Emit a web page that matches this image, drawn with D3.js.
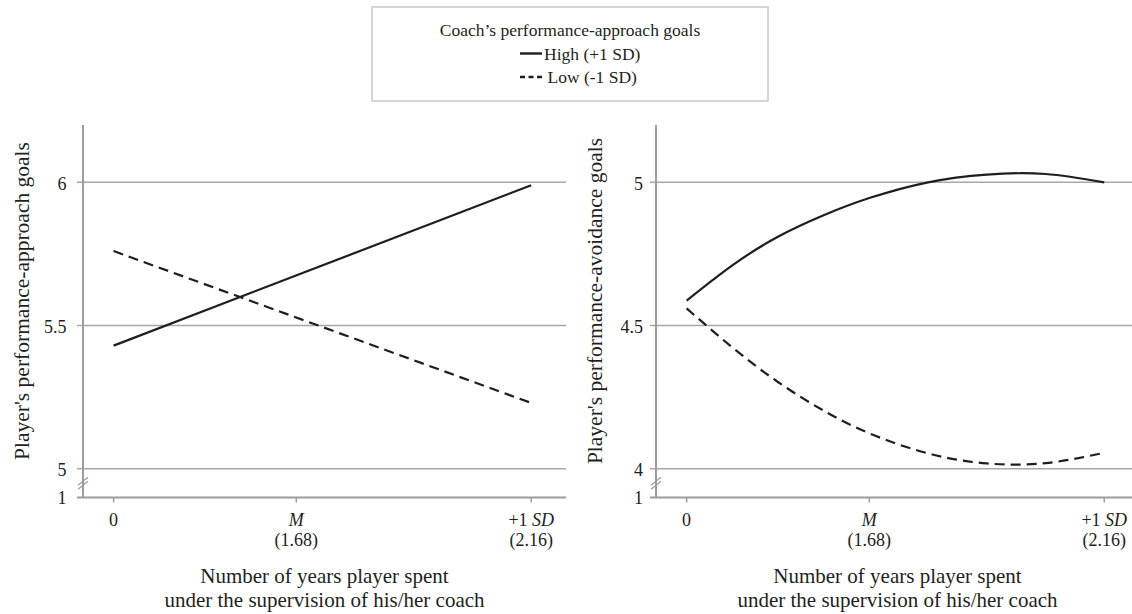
<!DOCTYPE html>
<html>
<head>
<meta charset="utf-8">
<script src="https://cdn.jsdelivr.net/npm/d3@7"></script>
<style>
  html, body { margin: 0; padding: 0; background: #fff; }
  svg { display: block; }
  text { font-family: "Liberation Serif", "Times New Roman", serif; fill: #231f20; }
</style>
</head>
<body>
<svg id="chart" width="1132" height="614"></svg>
<script>
// ---- data ----
const seriesNames = ["High (+1 SD)", "Low (-1 SD)"];
const legendTitle = "Coach\u2019s performance-approach goals";

const xTickValues = [0, 1.68, 2.16];
const xTickMain = ["0", "M", "+1 SD"];
const xTickSub = ["", "(1.68)", "(2.16)"];
const italicTerms = ["M", "SD"];
const xTitleLines = ["Number of years player spent", "under the supervision of his/her coach"];

const breakLabel = "1";

// left panel: simple slopes
const approachTitle = "Player's performance-approach goals";
const approachTicks = [5, 5.5, 6];
const approachX = [0, 2.16];
const approachHigh = [5.43, 5.99];
const approachLow = [5.76, 5.23];

// right panel: curvilinear effects
const avoidanceTitle = "Player's performance-avoidance goals";
const avoidanceTicks = [4, 4.5, 5];
const avoidanceX = [0, 0.42, 0.84, 1.26, 1.68, 1.80, 1.92, 2.04, 2.16];
const avoidanceHigh = [4.587, 4.71, 4.81, 4.885, 4.945, 5.0, 5.027, 5.029, 5.0];
const avoidanceLow = [4.56, 4.424, 4.303, 4.203, 4.124, 4.054, 4.019, 4.020, 4.056];

// ---- layout ----
const svg = d3.select("#chart");
const plotTop = 125, plotBottom = 497.5, plotWidth = 483;
const tickFrac = [0.0634, 0.4416, 0.928];   // where the three x ticks sit across the plot
const gridColor = "#a8a8a8", axisColor = "#9c9c9c", ink = "#1e1e1e";
const styles = [{ dash: null }, { dash: "10,6" }];

const panels = [
  { left: 83, labelGap: 16.5, title: approachTitle, ticks: approachTicks, domain: [4.9, 6.2],
    x: approachX, series: [approachHigh, approachLow], curve: d3.curveLinear },
  { left: 656, labelGap: 13, title: avoidanceTitle, ticks: avoidanceTicks, domain: [3.9, 5.2],
    x: avoidanceX, series: [avoidanceHigh, avoidanceLow], curve: d3.curveNatural }
];

function addLabel(sel, str) {
  str.split(" ").forEach((w, i, arr) => {
    sel.append("tspan")
      .style("font-style", italicTerms.includes(w) ? "italic" : "normal")
      .text(w + (i < arr.length - 1 ? " " : ""));
  });
}

panels.forEach(p => {
  const g = svg.append("g").attr("transform", `translate(${p.left},0)`);
  const x = d3.scaleLinear().domain(xTickValues).range(tickFrac.map(f => f * plotWidth));
  const y = d3.scaleLinear().domain(p.domain).range([plotBottom, plotTop]);

  // horizontal gridlines with short outer ticks
  g.selectAll("line.grid").data(p.ticks).join("line")
    .attr("x1", -6).attr("x2", plotWidth)
    .attr("y1", d => y(d)).attr("y2", d => y(d))
    .attr("stroke", gridColor).attr("stroke-width", 1.5);

  // y tick labels
  g.selectAll("text.ytick").data(p.ticks).join("text")
    .attr("x", -p.labelGap).attr("y", d => y(d) + 7.5)
    .attr("text-anchor", "end").style("font-size", "18px")
    .text(d => d3.format("")(d));
  g.append("text")
    .attr("x", -p.labelGap).attr("y", y(p.domain[0]) + 6.5)
    .attr("text-anchor", "end").style("font-size", "18px")
    .text(breakLabel);

  // x axis baseline and tick marks
  g.append("line").attr("x1", -6).attr("x2", plotWidth)
    .attr("y1", plotBottom).attr("y2", plotBottom)
    .attr("stroke", axisColor).attr("stroke-width", 2);
  g.selectAll("line.xtick").data(xTickValues).join("line")
    .attr("x1", d => x(d)).attr("x2", d => x(d))
    .attr("y1", plotBottom).attr("y2", plotBottom + 5)
    .attr("stroke", axisColor).attr("stroke-width", 1.5);

  // y axis line
  g.append("line").attr("x1", 0).attr("x2", 0)
    .attr("y1", plotTop).attr("y2", plotBottom)
    .attr("stroke", axisColor).attr("stroke-width", 2);

  // axis break marks
  const yb = (y(p.domain[0]) + y(p.ticks[0])) / 2;
  [-2, 2].forEach(o => {
    g.append("line")
      .attr("x1", -5).attr("y1", yb + o + 4).attr("x2", 5).attr("y2", yb + o - 4)
      .attr("stroke", axisColor).attr("stroke-width", 1.2);
  });

  // x tick labels
  xTickValues.forEach((v, i) => {
    addLabel(g.append("text").attr("x", x(v)).attr("y", plotBottom + 28.5)
      .attr("text-anchor", "middle").style("font-size", "18px"), xTickMain[i]);
    if (xTickSub[i]) {
      g.append("text").attr("x", x(v)).attr("y", plotBottom + 48.5)
        .attr("text-anchor", "middle").style("font-size", "18px").text(xTickSub[i]);
    }
  });

  // x axis title
  xTitleLines.forEach((t, i) => {
    g.append("text").attr("x", plotWidth / 2).attr("y", 583 + i * 23.5)
      .attr("text-anchor", "middle").style("font-size", "21px").text(t);
  });

  // y axis title
  g.append("text")
    .attr("transform", `translate(-54.5,301) rotate(-90)`)
    .attr("text-anchor", "middle").style("font-size", "21.5px").text(p.title);

  // series lines
  const line = d3.line().x(d => x(d[0])).y(d => y(d[1])).curve(p.curve);
  p.series.forEach((vals, si) => {
    g.append("path")
      .datum(p.x.map((xv, k) => [xv, vals[k]]))
      .attr("d", line).attr("fill", "none")
      .attr("stroke", ink).attr("stroke-width", 2.2)
      .attr("stroke-dasharray", styles[si].dash);
  });
});

// ---- legend ----
const lg = svg.append("g");
lg.append("rect").attr("x", 372).attr("y", 7).attr("width", 396).attr("height", 94)
  .attr("fill", "#fff").attr("stroke", "#c8c8c8").attr("stroke-width", 1.5);
lg.append("text").attr("x", 570).attr("y", 36).attr("text-anchor", "middle")
  .style("font-size", "17.5px").text(legendTitle);
const legendDash = [null, "5,3.5"];
const legendRows = [{ y: 53.5, tx: 544, x2: 542 }, { y: 77, tx: 547.5, x2: 544 }];
seriesNames.forEach((name, i) => {
  const r = legendRows[i];
  lg.append("line").attr("x1", 520).attr("x2", r.x2).attr("y1", r.y).attr("y2", r.y)
    .attr("stroke", ink).attr("stroke-width", 2.4).attr("stroke-dasharray", legendDash[i]);
  lg.append("text").attr("x", r.tx).attr("y", r.y + 6.3)
    .style("font-size", "17.5px").text(name);
});
</script>
</body>
</html>
